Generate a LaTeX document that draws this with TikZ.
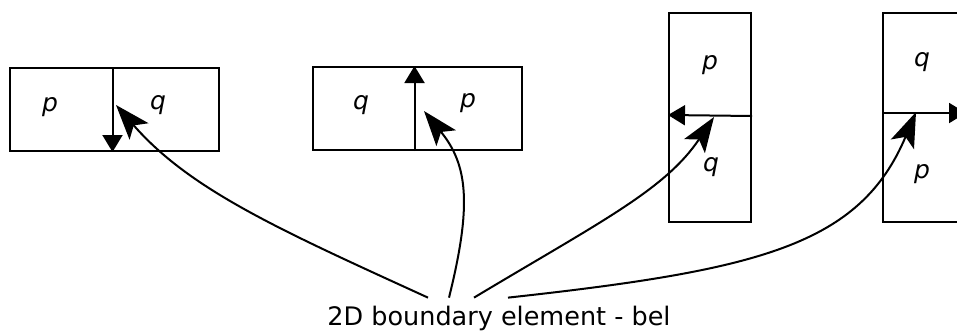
\documentclass[tikz,border=0pt]{standalone}
\usepackage{fontspec}
\setmainfont{DejaVu Sans}
\usetikzlibrary{arrows.meta, positioning}

\begin{document}
\begin{tikzpicture}[x=1pt, y=-1pt,
    cell/.style={draw, line width=2pt, minimum width=#1, inner sep=0pt},
    lab/.style={font=\fontsize{25}{30}\selectfont\itshape},
    div/.style={line width=2pt, -{Triangle[length=17pt, width=20pt]}},
    arr/.style={line width=2pt, -{Stealth[length=35pt, width=25pt, inset=8pt]}}
]
\useasboundingbox (0,0) rectangle (957,333);
\clip (0,0) rectangle (957,333);

% horizontal cells
\node[cell=209pt, minimum height=83pt] (e1) at (114.5,109.5) {};
\node[cell=209pt, minimum height=83pt] (e2) at (417.5,108.5) {};
% vertical cells
\node[cell=82pt, minimum height=209pt] (e3) at (710,117.5) {};
\node[cell=82pt, minimum height=209pt] (e4) at (924,117.5) {};

\draw[div] ([xshift=-2pt]e1.north) -- ([xshift=-2pt]e1.south);
\draw[div] ([xshift=-3pt]e2.south) -- ([xshift=-3pt]e2.north);
\draw[div] ([yshift=1.5pt]e3.east) -- ([yshift=2.5pt]e3.west);
\draw[div] ([yshift=4.5pt]e4.west) -- ([yshift=4.5pt]e4.east);

\node[lab] (p1) at (50,107) {p};
\node[lab] (q1) at (158,105) {q};
\node[lab] (q2) at (361,105) {q};
\node[lab] (p2) at (468,103) {p};
\node[lab] (p3) at (710,65) {p};
\node[lab] (q3) at (711,167) {q};
\node[lab] (q4) at (922,62) {q};
\node[lab] (p4) at (922,174) {p};

\node[font=\fontsize{25.5}{30}\selectfont] (bel) at (499,318.5) {2D boundary element - bel};

\coordinate (t1) at (116,105);
\coordinate (t2) at (424,111);
\coordinate (t3) at (714,117);
\coordinate (t4) at (916,112);

\draw[arr] ([xshift=-71pt,yshift=5pt]bel.north) .. controls (280,230) and (190,190) .. (t1);
\draw[arr] ([xshift=-50pt,yshift=5pt]bel.north) .. controls (472,205) and (468,165) .. (t2);
\draw[arr] ([xshift=-25pt,yshift=5pt]bel.north) .. controls (600,222) and (665,190) .. (t3);
\draw[arr] ([xshift=9pt,yshift=5pt]bel.north) .. controls (760,270) and (860,245) .. (t4);
\end{tikzpicture}
\end{document}
